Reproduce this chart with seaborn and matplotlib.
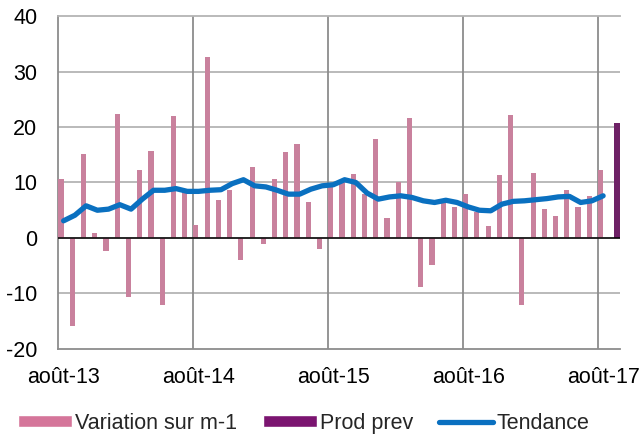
#!/usr/bin/env python3
import matplotlib
matplotlib.use('Agg')
from matplotlib import pyplot as plt
from matplotlib.patches import Patch
from matplotlib.lines import Line2D
import pandas as pd
import seaborn as sns

# monthly categories, août-13 .. sept-17
mois = ['janv', 'févr', 'mars', 'avr', 'mai', 'juin', 'juil', 'août', 'sept', 'oct', 'nov', 'déc']
months = []
for k in range(50):
    m = (7 + k) % 12
    y = 13 + (7 + k) // 12
    months.append(f"{mois[m]}-{y}")

variation = [
    10.6, -15.8, 15.2, 0.9, -2.3, 22.4, -10.6, 12.2, 15.7, -12.1, 22.0, 8.3,
    2.4, 32.7, 6.8, 8.7, -4.0, 12.8, -1.0, 10.6, 15.5, 16.9, 6.5, -1.9,
    9.8, 10.0, 11.6, 8.0, 17.8, 3.6, 10.1, 21.7, -8.9, -4.9, 6.5, 5.6,
    8.0, 4.7, 2.2, 11.3, 22.1, -12.1, 11.8, 5.2, 4.0, 8.6, 5.5, 7.5,
    12.3,
]
prod_prev_month = 'sept-17'
prod_prev = 20.7
tendance = [
    3.1, 4.1, 5.8, 5.0, 5.2, 6.0, 5.2, 7.0, 8.6, 8.6, 8.9, 8.4,
    8.4, 8.6, 8.7, 9.8, 10.5, 9.4, 9.2, 8.6, 7.9, 7.9, 8.8, 9.4,
    9.6, 10.5, 10.0, 8.1, 7.0, 7.4, 7.6, 7.3, 6.7, 6.4, 6.8, 6.4,
    5.6, 5.0, 4.9, 6.1, 6.6, 6.7, 6.9, 7.1, 7.4, 7.5, 6.4, 6.7,
    7.6,
]
tick_labels = ['août-13', 'août-14', 'août-15', 'août-16', 'août-17']

PINK = '#d5759a'
PURPLE = '#7b1470'
BLUE = '#0a70c0'

sns.set_style('white')
plt.rcParams['font.family'] = ['Liberation Sans', 'DejaVu Sans']
plt.rcParams['axes.unicode_minus'] = False

bars = pd.DataFrame({
    'mois': months[:len(variation)] + [prod_prev_month],
    'valeur': variation + [prod_prev],
    'serie': ['Variation sur m-1'] * len(variation) + ['Prod prev'],
})

fig = plt.figure(figsize=(6.43, 4.34), dpi=100)
ax = fig.add_axes([0.0902, 0.1959, 0.874, 0.7672])

sns.barplot(data=bars, x='mois', y='valeur', hue='serie', order=months,
            hue_order=['Variation sur m-1', 'Prod prev'],
            palette=[PINK, PURPLE], width=0.92, dodge=True,
            linewidth=0, legend=False, ax=ax, zorder=3)

sns.lineplot(x=list(range(len(tendance))), y=tendance, color=BLUE,
             linewidth=3.8, ax=ax, zorder=4, solid_capstyle='round')

ax.set_xlim(-0.5, 49.5)
ax.set_ylim(-20, 40)
ax.set_yticks(range(-20, 41, 10))
ax.set_xticks([0, 12, 24, 36, 48])
ax.set_xticklabels(tick_labels)
ax.set_xlabel('')
ax.set_ylabel('')
ax.tick_params(axis='both', length=0, labelsize=15.5, colors='black')
ax.tick_params(axis='x', pad=13)
ax.tick_params(axis='y', pad=15)

for yv in range(-10, 40, 10):
    ax.axhline(yv, color='#b4b4b4', linewidth=1.3, zorder=1)
for xv in [11.5, 23.5, 35.5, 47.5]:
    ax.axvline(xv, color='#8c8c8c', linewidth=1.3, zorder=1)
ax.axhline(0, color='black', linewidth=1.1, zorder=3.5)

ax.spines['right'].set_visible(False)
ax.spines['top'].set_color('#b4b4b4')
ax.spines['top'].set_linewidth(1.3)
ax.spines['left'].set_color('#8c8c8c')
ax.spines['bottom'].set_color('#8c8c8c')
ax.spines['left'].set_linewidth(1.3)
ax.spines['bottom'].set_linewidth(1.3)

handles = [
    Patch(facecolor=PINK, label='Variation sur m-1'),
    Patch(facecolor=PURPLE, label='Prod prev'),
    Line2D([0], [0], color=BLUE, linewidth=3.8, label='Tendance'),
]
fig.legend(handles=handles, loc='center', bbox_to_anchor=(0.472, 0.025),
           ncol=3, frameon=False, fontsize=15.5, handlelength=2.5,
           handleheight=0.5, handletextpad=0.15, columnspacing=1.2,
           borderaxespad=0)

plt.savefig('out.png', dpi=100)
